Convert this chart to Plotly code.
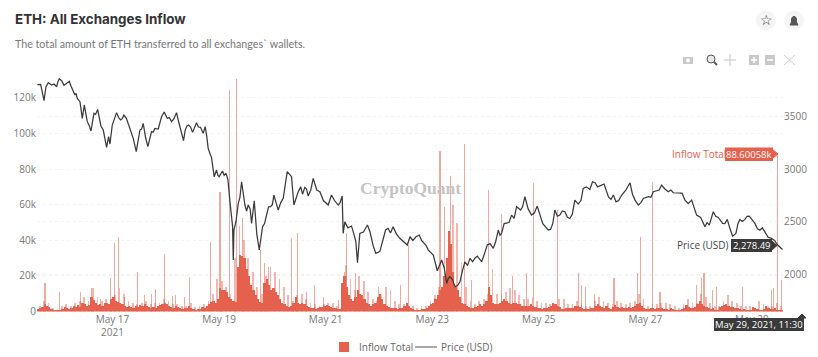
import plotly.graph_objects as go
from datetime import datetime, timedelta

START = datetime(2021, 5, 15, 14, 0)

price_hours = [0.15,1.65,3.15,4.05,5.1,6.6,7.65,8.85,10.05,11.1,12.15,14.55,16.05,17.1,18.15,19.35,20.4,21.3,22.65,24.3,25.65,27.3,28.8,29.85,31.35,32.25,32.85,33.9,35.85,37.65,39.15,41.55,43.35,44.7,46.35,47.85,49.95,51.6,53.1,54.6,56.1,57.3,58.65,60.6,62.85,64.65,66.0,66.75,68.25,70.05,71.85,73.65,74.85,75.75,77.1,78.6,79.8,80.85,82.05,83.55,85.05,86.9,88.1,88.4,88.7,89.6,90.65,92.15,93.65,95.15,96.65,97.85,100.1,101.6,103.4,105.2,106.7,108.65,110.9,112.7,114.65,115.7,117.65,120.65,122.15,124.4,127.4,131.15,132.65,135.65,137.45,137.9,138.65,141.65,143.6,144.35,145.4,148.85,152.6,154.4,156.2,158.15,160.4,163.4,166.8,168,170.7,172.2,174.3,176.25,178.5,180.3,182.25,184.5,186,188.25,190.5,192.75,195,196.2,198.3,200.25,202.8,205.5,207.75,209.25,211.5,213.75,216,217.8,219.75,222.75,225.3,230.25,231.3,233.25,235.5,237.75,240,242.25,243.75,246,249,250.2,251.35,253.6,255.4,257.35,259.6,260.8,263.35,267.1,269.35,270.85,273.1,275.35,277.6,279.1,281.35,284.35,286.6,289.3,291.85,294.85,297.1,298.9,300.85,302.8,304.6,306.85,308.8,310.9,313.3,314.8,316.6,318.85,320.8,323.35,325.6,327.85,330.85,333.5,335.8]
price_usd = [3803,3806,3651,3784,3822,3800,3810,3784,3860,3841,3797,3835,3759,3705,3673,3641,3483,3610,3451,3362,3530,3568,3410,3371,3206,3308,3238,3419,3537,3467,3514,3403,3292,3165,3371,3435,3213,3356,3387,3381,3498,3543,3483,3451,3537,3387,3270,3371,3419,3349,3441,3397,3340,3403,3197,3111,2927,2990,2927,2981,2959,2689,2451,2133,2419,2498,2673,2879,2657,2657,2482,2698,2229,2451,2562,2641,2752,2609,2721,2975,2927,2657,2784,2825,2743,2911,2784,2657,2752,2657,2743,2387,2498,2457,2308,2108,2387,2467,2197,2213,2355,2435,2451,2340,2276,2355,2355,2371,2292,2228,2180,2031,2133,1910,1974,1879,1926,2117,2149,2117,2171,2117,2276,2244,2419,2387,2482,2561,2641,2609,2736,2561,2647,2419,2425,2609,2561,2593,2529,2704,2666,2815,2806,2879,2869,2838,2857,2736,2752,2688,2752,2869,2704,2657,2720,2736,2784,2793,2847,2784,2774,2774,2704,2704,2561,2539,2450,2466,2593,2539,2482,2520,2361,2387,2520,2520,2552,2482,2418,2403,2339,2278.49,2234]

# finer wiggles of the price between the readings above
detail_hours = [9.4,13.3,15.3,17.6,19.9,21.9,23.4,26.4,28.1,30.6,34.8,36.8,38.4,40.3,42.4,45.5,47.1,48.9,50.8,52.3,55.3,59.6,61.7,63.8,67.5,69.2,71,72.7,76.4,78,81.5,84.3,86,91.4,94.4,96,99,102.5,104.3,106,109.8,113.6,118.8,119.6,121.4,123.3,126,129,134,136.5,140,142.6,147,150,151.4,157,159.2,161.9,165,169.3,173.2,175.3,181.3,183.4,185.3,187.1,189.4,191.6,193.9,197.2,201.5,204.1,206.6,208.5,210.4,212.6,214.9,218.7,221.2,224,227.8,232.3,234.4,236.6,238.9,241.1,245,247.5,252.5,258.5,262,265.2,268.2,272,276.5,280.2,282.8,285.5,290.5,293.3,295.9,299.9,301.8,305.7,309.8,312,315.7,317.7,319.8,322,324.5,326.7,329.3,332.2]
detail_usd = [3830,3815,3790,3720,3560,3520,3420,3520,3490,3300,3480,3490,3480,3480,3340,3260,3380,3300,3290,3350,3430,3490,3480,3450,3410,3400,3390,3400,3320,3140,2940,2940,2900,2730,2600,2620,2380,2480,2640,2660,2680,2950,2830,2760,2810,2800,2800,2700,2700,2680,2440,2390,2400,2400,2270,2420,2390,2380,2310,2320,2320,2270,2090,2060,1960,1950,1890,2030,2080,2150,2190,2290,2310,2370,2480,2490,2530,2640,2620,2580,2480,2480,2550,2600,2540,2570,2700,2830,2830,2710,2700,2800,2760,2680,2730,2800,2810,2800,2770,2670,2640,2490,2490,2550,2480,2440,2480,2500,2550,2520,2430,2440,2350,2320]

# hourly body of the inflow, thousands of ETH, one row per 24 hours
inflow_body_k = [
 1.5,2,2.5,4,3,2.5,1.5,1,0.5,0.5,1,1.5,2.5,2,1.5,2,3,2.5,3.5,2.5,5,4,3,3.5,
 8,6.5,5,3.5,4,3,4.5,5,4,7,8,6,5.5,5,4,3,2.5,3,2.5,2,3,2.5,3.5,3,
 4,3,2.5,2,2.5,2,3,3.5,4,5,4,3,2.5,2,3,2.5,2,1.5,2,2,3,2,1.5,1,
 1.5,1.5,2.5,2,3,4,5.5,6,5,7,13,12,12,11,8,7,6,5.5,25,32,31,30,24,20,
 15,12,9,7,5.5,5,16,18,15,12,13,11,9,7,5,4,3,2.5,3,5,8,5,4,5,
 4,3,2.5,2,2,1.5,2,2.5,2.5,3,3.5,3,2.5,2,2,1.5,1.5,16,20,14,9,7,6,8,
 12,10,9,7,5,4,3,4,5,8,10,7,4,3,2.5,2,2,2,1.5,2,2,3,5,3,
 2,1.5,1,1,1,1.5,1.5,2,3,4,5,7,9,12,14,20,30,45,38,22,14,12,8,5,
 4,3,2.5,2,2,2.5,3,4,3,4,6,14,9,5,4,4,5,6,7,6,5,4,5,5,
 4,4,3,3,3,3,4,3,2.5,2,2,1.5,2,2,2.5,3,5,4,3,2.5,1.5,1.5,2,2,
 2,2,3,3,2.5,2,1.5,1.5,1.5,2,2,3,4,3,2.5,2,3,2,1.5,2.5,3.5,2.5,2,2.5,
 2,2,2.5,2,2.5,3,4,5,3,2,1.5,1.5,2,2,1.5,2,2,2,1.5,1.5,1,2,1.5,1,
 1,1,1.5,2,3.5,2.5,2,2,2.5,4,6,4,3,2.5,2,1.5,2,1,1,2.5,3,3.5,4,3,
 2.5,2.5,2,2,1.5,1,1.5,1,1,1,2.5,2,1.5,1,1,1.5,3,2,1.5,1.5,2,1,1,1,
]

# two-hourly pale peaks above the body, one row per 24 hours
inflow_peak_k = [
 3,6,5,2,1,3,4,3,5,6,8,6,
 13,8,6,7,6,9,13,10,6,5,4,5,
 6,4,5,5,7,6,4,4,3,3,5,2.5,
 3,4,6,10,18,17,14,10,30,48,40,30,
 22,14,10,20,25,22,18,14,9,6,9,10,
 7,5,4,3,4,5,5,3,3,26,18,12,
 20,17,11,7,6,9,14,12,6,4,4,3,
 3,2,3,3,6,9,14,20,30,60,50,28,
 14,6,4,6,7,10,24,10,9,11,13,12,
 9,7,7,8,6,5,5,4,3,7,7,4,
 4,6,5,3,3,6,8,6,5,4,6,5,
 4,5,6,10,7,3,4,4,5,5,4,3,
 2,4,7,5,5,10,8,5,3,3,6,9,
 6,5,3,3,3,2,6,4,3,3,5,3,
]

spike_hours = [3.6,10.05,19.65,24.6,28.65,33.15,35.1,36.6,39.6,45.3,48.6,51.6,53.55,57.6,61.05,62.55,66.6,68.85,78,82.4,86.6,89.9,92.45,100.7,102.65,104.3,114.65,117.2,121.4,125.15,129,135.65,138.65,139.55,143.6,153.65,163.7,167.5,181.5,183.45,186.3,192.6,195.75,203.55,209.25,214.2,220.5,223.5,234.3,243.75,245.4,246.9,251.25,259.9,270.55,271.9,277.3,280.6,297.1,299.35,300.4,304.3,306.1,317.8,330.85,331.9,333.5,335.2]
spike_k = [15.9,10.7,11.2,13,7,18.7,38.7,41.7,8.4,22,9.3,9.9,12.5,32.4,8.8,9.3,8.4,19.6,39.3,67.3,124.7,130.9,52.4,34.6,27,25,41.1,43.9,11,15,8.4,6.5,22,43.9,21.5,14,15,37.4,90.3,58.5,76,94,17.8,68,55,20,21.5,72.4,57,21.9,15,14,10,18.7,21.9,42,73,11,15,18.7,21.9,12,14,14,12,13,88.60058,17.8]

legend_names = ["Inflow Total", "Price (USD)"]
left_ticks = [0, 20000, 40000, 60000, 80000, 100000, 120000]
left_labels = ["0", "20k", "40k", "60k", "80k", "100k", "120k"]
right_ticks = [2000, 2500, 3000, 3500]
date_ticks = ["2021-05-17", "2021-05-19", "2021-05-21", "2021-05-23", "2021-05-25", "2021-05-27", "2021-05-29"]
date_labels = ["May 17<br>2021", "May 19", "May 21", "May 23", "May 25", "May 27", "May 29"]


def at(h):
    return START + timedelta(hours=h)


W, H = 818, 357
L, R, T, B = 37, 783, 72, 311.5
RED = "#e5604d"
DARK = "#3a3a3a"
body_hours = [i + 0.5 for i in range(len(inflow_body_k))]
peak_hours = [2 * i + 1.2 for i in range(len(inflow_peak_k))]
price_points = sorted(zip(price_hours + detail_hours, price_usd + detail_usd))

fig = go.Figure()
fig.add_bar(x=[at(h) for h in spike_hours], y=[v * 1000 for v in spike_k], width=1000 * 3600 * 0.5,
            marker=dict(color="rgba(229,96,77,0.55)", line_width=0), showlegend=False, hoverinfo="skip")
fig.add_bar(x=[at(h) for h in peak_hours], y=[v * 1000 for v in inflow_peak_k], width=1000 * 3600 * 0.8,
            marker=dict(color="rgba(229,96,77,0.45)", line_width=0), showlegend=False, hoverinfo="skip")
fig.add_bar(x=[at(h) for h in body_hours], y=[v * 1000 for v in inflow_body_k], width=1000 * 3600,
            marker=dict(color=RED, line_width=0), name=legend_names[0], showlegend=False)
fig.add_scatter(x=[at(h) for h, _ in price_points], y=[p for _, p in price_points], yaxis="y2", mode="lines",
                line=dict(color="#3a3a3a", width=1.25), name=legend_names[1], showlegend=False)


def px(x):
    return x / W


def py(y):
    return 1 - y / H


shapes = []
ann = []


def label(x, y, text, size=10, color="#666", bg=None, anchor="center", family="Open Sans", pad=0):
    ann.append(dict(x=px(x), y=py(y), xref="paper", yref="paper", text=text, showarrow=False, xanchor=anchor,
                    yanchor="middle", font=dict(size=size, color=color, family=family),
                    bgcolor=bg, borderpad=pad))


def path(d, fill=None, line="#999", lw=1):
    shapes.append(dict(type="path", path=d, xref="paper", yref="paper",
                       fillcolor=fill, line=dict(color=line, width=lw)))


def poly(pts, **kw):
    path("M " + " L ".join(f"{px(a):.5f},{py(b):.5f}" for a, b in pts) + " Z", **kw)


def rect(x0, y0, x1, y1, fill, line=None):
    shapes.append(dict(type="rect", xref="paper", yref="paper", x0=px(x0), x1=px(x1), y0=py(y0), y1=py(y1),
                       fillcolor=fill, line=dict(width=0 if line is None else 1, color=line or fill)))


def circle(cx, cy, r, fill, line=None):
    shapes.append(dict(type="circle", xref="paper", yref="paper", x0=px(cx - r), x1=px(cx + r), y0=py(cy - r),
                       y1=py(cy + r), fillcolor=fill, line=dict(width=0 if line is None else 1, color=line or fill)))


label(14, 19, "<b>ETH: All Exchanges Inflow</b>", size=13.4, color="#333", anchor="left", family="Inter")
label(14, 43, "The total amount of ETH transferred to all exchanges` wallets.", size=10.7, color="#777",
      anchor="left", family="Lato")
label(411, 188, "<b>CryptoQuant</b>", size=17.5, color="#c4c4c4", family="Liberation Serif")

# legend
rect(339, 342, 349, 352, RED)
label(358, 347, legend_names[0], size=10, color="#666", anchor="left")
path(f"M {px(415)},{py(347)} L {px(437)},{py(347)}", line="#555", lw=1)
label(440, 347, legend_names[1], size=10, color="#666", anchor="left")

# header buttons
circle(766, 20.5, 10, "#f5f5f5")
circle(794, 20.5, 10, "#f5f5f5")
label(766, 20, "☆", size=14, color="#333", family="DejaVu Sans")
path(f"M {px(790)},{py(25)} L {px(798)},{py(25)} L {px(796.5)},{py(22)} L {px(796.5)},{py(18.5)} "
     f"Q {px(794)},{py(14)} {px(791.5)},{py(18.5)} L {px(791.5)},{py(22)} Z", fill="#555", line="#555")

# modebar
rect(683, 57, 693, 64, "#c9c9c9")
circle(688, 60.5, 2, "#ffffff")
circle(711, 59, 4, "#e8e8e8", "#555")
path(f"M {px(714)},{py(62)} L {px(717)},{py(65)}", line="#555", lw=2)
path(f"M {px(724)},{py(60)} L {px(736)},{py(60)} M {px(730)},{py(54)} L {px(730)},{py(66)}", line="#c4c4c4", lw=1)
rect(749, 55, 759, 65, "#c9c9c9")
path(f"M {px(751)},{py(60)} L {px(757)},{py(60)} M {px(754)},{py(57)} L {px(754)},{py(63)}", line="#ffffff", lw=1.5)
rect(765, 55, 775, 65, "#c9c9c9")
path(f"M {px(767)},{py(60)} L {px(773)},{py(60)}", line="#ffffff", lw=1.5)
path(f"M {px(784)},{py(55)} L {px(795)},{py(65)} M {px(795)},{py(55)} L {px(784)},{py(65)}", line="#cfcfcf", lw=1)

# crosshair read-outs
label(699, 154, "Inflow Total", size=10, color=RED, anchor="center")
rect(725, 147.5, 773, 161, RED)
poly([(773, 150), (778, 154), (773, 158)], fill=RED, line=RED)
label(749, 154, "88.60058k", size=9.5, color="#ffffff")
label(703, 245, "Price (USD)", size=10, color="#444")
rect(731, 239, 772, 252, DARK)
poly([(772, 241), (777, 245.5), (772, 250)], fill=DARK, line=DARK)
label(751.5, 245.5, "2,278.49", size=9.5, color="#ffffff")
rect(714, 318, 804, 331, DARK)
poly([(798, 318), (802, 314), (806, 318)], fill=DARK, line=DARK)
label(759, 324.5, "May 29, 2021, 11:30", size=9.5, color="#ffffff")

fig.update_layout(
    template="none",
    width=W, height=H, margin=dict(l=0, r=0, t=0, b=0, pad=0),
    paper_bgcolor="white", plot_bgcolor="white", barmode="overlay", bargap=0,
    font=dict(family="Open Sans", size=10, color="#666"),
    showlegend=False,
    xaxis=dict(type="date", domain=[L / W, R / W], range=[at(0), at(336)], tickmode="array", tickvals=date_ticks,
               ticktext=date_labels, showgrid=False, ticks="", showline=False, zeroline=False,
               tickfont=dict(size=10, color="#777"), automargin=False),
    yaxis=dict(domain=[1 - B / H, 1 - T / H], range=[0, 134550], tickmode="array", tickvals=left_ticks,
               ticktext=left_labels, showgrid=True, gridcolor="#f3f3f3", griddash="dot", zeroline=False, ticks="",
               tickfont=dict(size=10, color="#777"), showline=False, automargin=False),
    yaxis2=dict(domain=[1 - B / H, 1 - T / H], overlaying="y", side="right", range=[1643, 3924], tickmode="array",
                tickvals=right_ticks, showgrid=True, gridcolor="#f3f3f3", griddash="dot", zeroline=False, ticks="",
                tickfont=dict(size=10, color="#777"), tickformat="d", showline=False, automargin=False),
    shapes=shapes, annotations=ann,
)
fig.write_html("out.html", config=dict(displayModeBar=False),
               post_script="document.body.style.margin='0';document.body.style.overflow='hidden';")
